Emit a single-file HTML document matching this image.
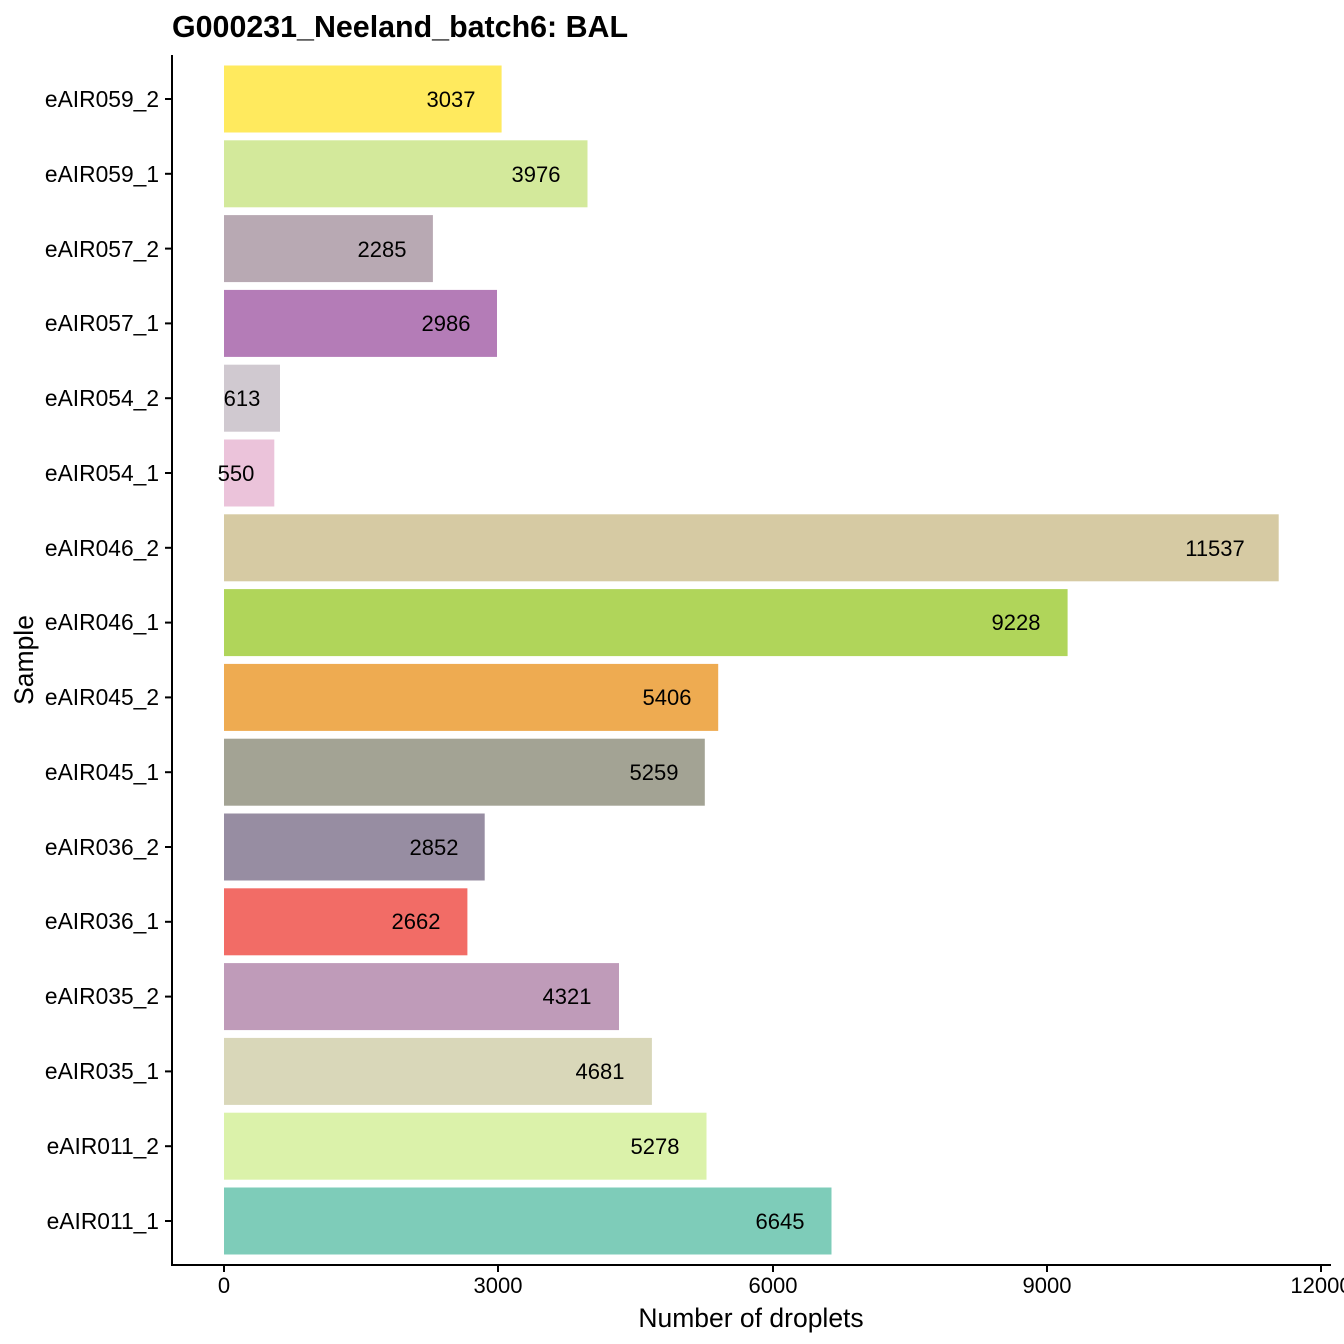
<!DOCTYPE html>
<html><head><meta charset="utf-8"><style>body{margin:0;background:#fff}svg{display:block}text{font-family:"Liberation Sans",Arial,sans-serif}</style></head>
<body>
<svg width="1344" height="1344" viewBox="0 0 1344 1344" xmlns="http://www.w3.org/2000/svg">
<rect width="1344" height="1344" fill="#fff"/>
<text x="172" y="37" font-size="30.4" font-weight="bold" fill="#000">G000231_Neeland_batch6: BAL</text>
<g>
<rect x="224" y="65.5" width="277.6" height="67" fill="#FFEA5E"/>
<rect x="224" y="140.3" width="363.5" height="67" fill="#D3E99B"/>
<rect x="224" y="215.1" width="208.9" height="67" fill="#B8A9B3"/>
<rect x="224" y="289.9" width="273.0" height="67" fill="#B47CB7"/>
<rect x="224" y="364.7" width="56.0" height="67" fill="#D0C9D0"/>
<rect x="224" y="439.5" width="50.3" height="67" fill="#EBC3DA"/>
<rect x="224" y="514.3" width="1054.7" height="67" fill="#D6CAA3"/>
<rect x="224" y="589.1" width="843.6" height="67" fill="#B0D55A"/>
<rect x="224" y="663.9" width="494.2" height="67" fill="#EEAB51"/>
<rect x="224" y="738.7" width="480.8" height="67" fill="#A3A394"/>
<rect x="224" y="813.5" width="260.7" height="67" fill="#978DA2"/>
<rect x="224" y="888.3" width="243.4" height="67" fill="#F26C66"/>
<rect x="224" y="963.1" width="395.0" height="67" fill="#BF9BB9"/>
<rect x="224" y="1037.9" width="427.9" height="67" fill="#D9D7B9"/>
<rect x="224" y="1112.7" width="482.5" height="67" fill="#DBF2AA"/>
<rect x="224" y="1187.5" width="607.5" height="67" fill="#7ECCB9"/>
</g>
<g font-size="22" fill="#000" text-anchor="middle">
<text x="451" y="107">3037</text>
<text x="536" y="182">3976</text>
<text x="382" y="257">2285</text>
<text x="446" y="331">2986</text>
<text x="242" y="406">613</text>
<text x="236" y="481">550</text>
<text x="1215" y="556">11537</text>
<text x="1016" y="630">9228</text>
<text x="667" y="705">5406</text>
<text x="654" y="780">5259</text>
<text x="434" y="855">2852</text>
<text x="416" y="929">2662</text>
<text x="567" y="1004">4321</text>
<text x="600" y="1079">4681</text>
<text x="655" y="1154">5278</text>
<text x="780" y="1229">6645</text>
</g>
<g font-size="22.8" fill="#000" text-anchor="end">
<text x="159" y="107">eAIR059_2</text>
<text x="159" y="182">eAIR059_1</text>
<text x="159" y="257">eAIR057_2</text>
<text x="159" y="331">eAIR057_1</text>
<text x="159" y="406">eAIR054_2</text>
<text x="159" y="481">eAIR054_1</text>
<text x="159" y="556">eAIR046_2</text>
<text x="159" y="630">eAIR046_1</text>
<text x="159" y="705">eAIR045_2</text>
<text x="159" y="780">eAIR045_1</text>
<text x="159" y="855">eAIR036_2</text>
<text x="159" y="929">eAIR036_1</text>
<text x="159" y="1004">eAIR035_2</text>
<text x="159" y="1079">eAIR035_1</text>
<text x="159" y="1154">eAIR011_2</text>
<text x="159" y="1229">eAIR011_1</text>
</g>
<g stroke="#000" stroke-width="2">
<line x1="165" y1="99" x2="172" y2="99"/>
<line x1="165" y1="173.8" x2="172" y2="173.8"/>
<line x1="165" y1="248.6" x2="172" y2="248.6"/>
<line x1="165" y1="323.4" x2="172" y2="323.4"/>
<line x1="165" y1="398.2" x2="172" y2="398.2"/>
<line x1="165" y1="473" x2="172" y2="473"/>
<line x1="165" y1="547.8" x2="172" y2="547.8"/>
<line x1="165" y1="622.6" x2="172" y2="622.6"/>
<line x1="165" y1="697.4" x2="172" y2="697.4"/>
<line x1="165" y1="772.2" x2="172" y2="772.2"/>
<line x1="165" y1="847" x2="172" y2="847"/>
<line x1="165" y1="921.8" x2="172" y2="921.8"/>
<line x1="165" y1="996.6" x2="172" y2="996.6"/>
<line x1="165" y1="1071.4" x2="172" y2="1071.4"/>
<line x1="165" y1="1146.2" x2="172" y2="1146.2"/>
<line x1="165" y1="1221" x2="172" y2="1221"/>
<line x1="172" y1="55" x2="172" y2="1266"/>
<line x1="171" y1="1265" x2="1331" y2="1265"/>
<line x1="224" y1="1265" x2="224" y2="1272"/>
<line x1="498" y1="1265" x2="498" y2="1272"/>
<line x1="773" y1="1265" x2="773" y2="1272"/>
<line x1="1047" y1="1265" x2="1047" y2="1272"/>
<line x1="1321" y1="1265" x2="1321" y2="1272"/>
</g>
<g font-size="22" fill="#000" text-anchor="middle">
<text x="224" y="1293">0</text>
<text x="498" y="1293">3000</text>
<text x="773" y="1293">6000</text>
<text x="1047" y="1293">9000</text>
<text x="1321" y="1293">12000</text>
</g>
<text x="751" y="1327" font-size="26.5" text-anchor="middle">Number of droplets</text>
<text transform="translate(33,660) rotate(-90)" font-size="26.5" text-anchor="middle">Sample</text>
</svg>
</body></html>
